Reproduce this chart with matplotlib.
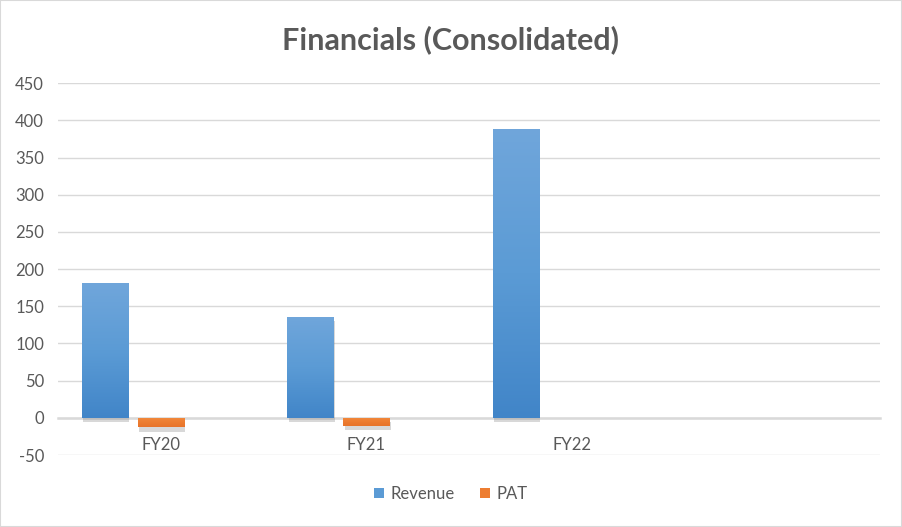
import matplotlib
matplotlib.use("Agg")
import matplotlib.pyplot as plt
import matplotlib.patheffects as pe
from matplotlib.patches import Rectangle, Patch
from matplotlib.colors import LinearSegmentedColormap
import numpy as np

categories = ["FY20", "FY21", "FY22", ""]
revenue = [181, 136, 389, np.nan]
pat = [-13, -11, -0.6, np.nan]
yticks = [-50, 0, 50, 100, 150, 200, 250, 300, 350, 400, 450]

plt.rcParams['font.family'] = ['Lato', 'DejaVu Sans']

fig = plt.figure(figsize=(9.02, 5.27), dpi=100)
ax = fig.add_axes([58/902, 1-455/527, (880-58)/902, (455-83.3)/527])

x = np.arange(len(categories))
w = 0.224
off = 0.273
shadow = [pe.SimplePatchShadow(offset=(1.0, -3.0), shadow_rgbFace='#7F7F7F', alpha=0.3), pe.Normal()]
b1 = ax.bar(x - off, revenue, w, color='#5B9BD5', zorder=3)
b2 = ax.bar(x, pat, w, color='#ED7D31', zorder=3)
for b in list(b1) + list(b2):
    b.set_path_effects(shadow)

# vertical gradients inside the bars
grad = np.linspace(0, 1, 256).reshape(-1, 1)
cm_blue = LinearSegmentedColormap.from_list('b', ['#4185C8', '#5B9BD5', '#70A6DB'])
cm_orange = LinearSegmentedColormap.from_list('o', ['#E8742A', '#ED7D31', '#F28A3E'])
for bars, cm in ((b1, cm_blue), (b2, cm_orange)):
    for b in bars:
        h = b.get_height()
        if not np.isfinite(h) or abs(h) < 1:
            continue
        x0 = b.get_x()
        y0, y1 = sorted([b.get_y(), b.get_y() + h])
        im = ax.imshow(grad, cmap=cm, extent=(x0, x0 + b.get_width(), y0, y1),
                       origin='lower', aspect='auto', zorder=3.5, interpolation='bilinear')
        im.set_clip_path(b)

ax.set_xlim(-0.5, 3.5)
ax.set_ylim(-50, 450)
ax.set_yticks(yticks)
ax.set_yticklabels([str(t) for t in yticks])
ax.set_xticks(x)
ax.set_xticklabels(categories)
ax.tick_params(axis='both', length=0, labelsize=12, labelcolor='#595959')
ax.tick_params(axis='y', pad=10)
ax.tick_params(axis='x', pad=14)
ax.grid(axis='y', color='#D9D9D9', linewidth=1, zorder=0)
for s in ['top', 'right', 'left']:
    ax.spines[s].set_visible(False)
ax.spines['bottom'].set_position(('data', 0))
ax.spines['bottom'].set_color('#D9D9D9')
ax.spines['bottom'].set_linewidth(1.8)
ax.spines['bottom'].set_zorder(2)

fig.text(0.5, 1-40/527, "Financials (Consolidated)", ha='center', va='center',
         fontsize=22, fontweight='bold', color='#595959')

handles = [Patch(facecolor='#5B9BD5'), Patch(facecolor='#ED7D31')]
leg = fig.legend(handles=handles, labels=['Revenue', 'PAT'], loc='center',
                 bbox_to_anchor=(0.5, 1-494/527), ncol=2, frameon=False,
                 fontsize=12, handlelength=0.6, handleheight=0.6, handletextpad=0.4,
                 columnspacing=1.5)
for t in leg.get_texts():
    t.set_color('#595959')

fig.patches.append(Rectangle((0, 0), 1, 1, transform=fig.transFigure, fill=False,
                             edgecolor='#D9D9D9', linewidth=1.5))

fig.savefig('out.png', dpi=100)
